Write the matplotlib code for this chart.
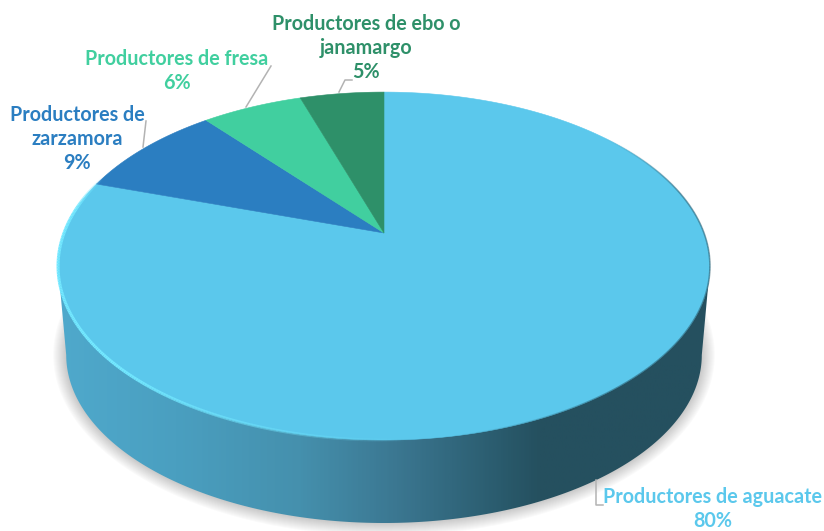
import numpy as np
import matplotlib
matplotlib.use('Agg')
import matplotlib.pyplot as plt
from matplotlib.collections import LineCollection
from matplotlib.colors import LinearSegmentedColormap
from matplotlib.patches import Polygon

categorias = ['Productores de aguacate', 'Productores de\nzarzamora',
              'Productores de fresa', 'Productores de ebo o\njanamargo']
valores = [80, 9, 6, 5]
colores = ['#5BC8EC', '#2B7EC1', '#41CF9F', '#2E9069']

fuente = 'Lato'
inclinacion = 0.19


# Pasa un angulo (grados, horario desde las 12) a un punto de la elipse en perspectiva
def elipse(angulo, cy, ancho, alto):
    t = np.radians(angulo)
    x = np.sin(t)
    y = np.cos(t)
    d = 1 + inclinacion * y
    return 384 + ancho * x / d, cy - alto * y / d


def arriba(angulo):
    return elipse(angulo, 233, 320, 167.7)


def abajo(angulo):
    return elipse(angulo, 323, 312, 162)


fig = plt.figure(figsize=(8.24, 5.31), dpi=100)
ax = fig.add_axes([0, 0, 1, 1])
ax.set_xlim(0, 824)
ax.set_ylim(531, 0)
ax.axis('off')

todos = np.linspace(0, 360, 721)

# Contorno de la pared lateral
xb, yb = abajo(todos)
xt, yt = arriba(todos)
i_izq = np.argmin(xt)
i_der = np.argmax(xt)
parte_baja = yb >= yb[np.argmin(xb)]
x_pared = np.r_[xt[i_der], xb[parte_baja], xt[i_izq]]
y_pared = np.r_[yt[i_der], yb[parte_baja], yt[i_izq]]

# Sombra difusa detras de la pared, queda oculta arriba por la tapa
for paso in np.linspace(13, 1, 13):
    esc_x = 1 + paso / 318
    esc_y = 1 + paso / 168
    ax.fill(384 + (xb - 384) * esc_x, 356 + (yb - 356) * esc_y, color='#303030',
            alpha=0.018, lw=0, zorder=1)

# Pared con degradado horizontal
degradado = LinearSegmentedColormap.from_list(
    'pared', [(0, '#4FA9CC'), (0.18, '#4A9FC0'), (0.37, '#4590AD'),
              (0.52, '#3B7791'), (0.68, '#2A5B6D'), (0.74, '#25505F'), (1, '#25505F')])
imagen = ax.imshow(np.linspace(0, 1, 400)[None, :], cmap=degradado, aspect='auto',
                   extent=[58, 710, 531, 200], zorder=2)
imagen.set_clip_path(Polygon(np.c_[x_pared, y_pared], closed=True, transform=ax.transData))
ax.set_xlim(0, 824)
ax.set_ylim(531, 0)

# Fondo de la tapa y rebanadas
inicio = 0
for valor, color in zip(valores, colores):
    fin = inicio + valor / sum(valores) * 360
    ang = np.linspace(inicio, fin, 300)
    xr, yr = arriba(ang)
    ax.fill(np.r_[384, xr], np.r_[233, yr], color=color, lw=0.4, ec=color, zorder=3)
    inicio = fin

# Brillo del borde inferior izquierdo y borde oscuro a la derecha
ang = np.linspace(175, 290, 230)
xr, yr = arriba(ang)
segmentos = np.stack([np.c_[xr[:-1], yr[:-1]], np.c_[xr[1:], yr[1:]]], axis=1)
alfas = np.clip((ang[:-1] - 175) / 50, 0, 1) * np.clip((290 - ang[:-1]) / 12, 0, 1)
ax.add_collection(LineCollection(segmentos, colors=[(0.45, 0.91, 1, a) for a in alfas],
                                 linewidths=2.2, zorder=4))
ang = np.linspace(50, 170, 240)
xr, yr = arriba(ang)
segmentos = np.stack([np.c_[xr[:-1], yr[:-1]], np.c_[xr[1:], yr[1:]]], axis=1)
alfas = 0.5 * np.clip((ang[:-1] - 50) / 25, 0, 1) * np.clip((170 - ang[:-1]) / 30, 0, 1)
ax.add_collection(LineCollection(segmentos, colors=[(0.15, 0.31, 0.37, a) for a in alfas],
                                 linewidths=1.2, zorder=4))

# Lineas guia
guias = [([596, 596, 603], [480, 505, 505]),
         ([146, 143], [121, 147]),
         ([271, 246], [66, 107]),
         ([352, 345, 339], [80, 80, 92])]
for gx, gy in guias:
    ax.plot(gx, gy, color='#B3B3B3', lw=1.1, zorder=5)

# Etiquetas
posiciones = [(713, 509), (77, 139), (177, 71), (366, 48)]
for nombre, valor, color, (px, py) in zip(categorias, valores, colores, posiciones):
    ax.text(px, py, f'{nombre}\n{valor}%', color=color, ha='center', va='center',
            family=fuente, weight='bold', fontsize=14.2, linespacing=1.24, zorder=6)

fig.savefig('out.png', dpi=100)
